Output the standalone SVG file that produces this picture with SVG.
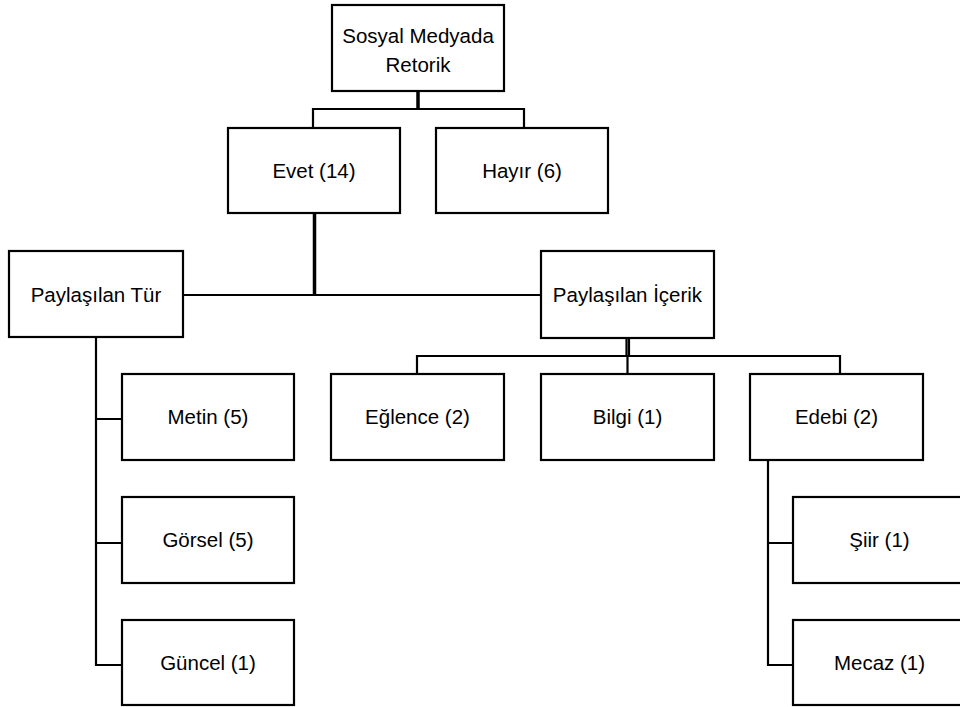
<svg xmlns="http://www.w3.org/2000/svg" width="960" height="707" viewBox="0 0 960 707">
<style>
.b{fill:#fff;stroke:#000;stroke-width:2.2}
.t{font-family:"Liberation Sans",Arial,sans-serif;font-size:20.5px;fill:#000;text-anchor:middle}
.c{fill:none;stroke:#000;stroke-width:2.2}
.k{fill:none;stroke:#000;stroke-width:3.5}
</style>
<rect width="960" height="707" fill="#fff"/>
<g id="connectors">
<path class="k" d="M418,91V109"/>
<path class="c" d="M313,128V109H524V128"/>
<path class="k" d="M314.5,213V295"/>
<path class="c" d="M183,295H541"/>
<path class="c" d="M626.5,338V356M629,338V356"/>
<path class="c" d="M417,374V356H840V374"/>
<path class="c" d="M627.5,356V374"/>
<path class="c" d="M96,337V665H122M96,419H122M96,543H122"/>
<path class="c" d="M768,460V665H793M768,543H793"/>
</g>
<g id="n-root"><rect class="b" x="332" y="5" width="172" height="86"/><text class="t" x="418" y="43">Sosyal Medyada</text><text class="t" x="418" y="72">Retorik</text></g>
<g id="n-evet"><rect class="b" x="228" y="128" width="172" height="85"/><text class="t" x="314" y="178">Evet (14)</text></g>
<g id="n-hayir"><rect class="b" x="436" y="128" width="172" height="85"/><text class="t" x="522" y="178">Hayır (6)</text></g>
<g id="n-tur"><rect class="b" x="9" y="251" width="174" height="86"/><text class="t" x="96" y="302">Paylaşılan Tür</text></g>
<g id="n-icerik"><rect class="b" x="541" y="251" width="173" height="87"/><text class="t" x="627.5" y="302">Paylaşılan İçerik</text></g>
<g id="n-metin"><rect class="b" x="122" y="374" width="172" height="86"/><text class="t" x="208" y="424">Metin (5)</text></g>
<g id="n-gorsel"><rect class="b" x="122" y="497" width="172" height="86"/><text class="t" x="208" y="547">Görsel (5)</text></g>
<g id="n-guncel"><rect class="b" x="122" y="620" width="172" height="85"/><text class="t" x="208" y="670">Güncel (1)</text></g>
<g id="n-eglence"><rect class="b" x="331" y="374" width="173" height="86"/><text class="t" x="417.5" y="424">Eğlence (2)</text></g>
<g id="n-bilgi"><rect class="b" x="541" y="374" width="173" height="86"/><text class="t" x="627.5" y="424">Bilgi (1)</text></g>
<g id="n-edebi"><rect class="b" x="750" y="374" width="173" height="86"/><text class="t" x="836.5" y="424">Edebi (2)</text></g>
<g id="n-siir"><rect class="b" x="793" y="497" width="173" height="86"/><text class="t" x="879.5" y="547">Şiir (1)</text></g>
<g id="n-mecaz"><rect class="b" x="793" y="620" width="173" height="85"/><text class="t" x="879.5" y="670">Mecaz (1)</text></g>
</svg>
